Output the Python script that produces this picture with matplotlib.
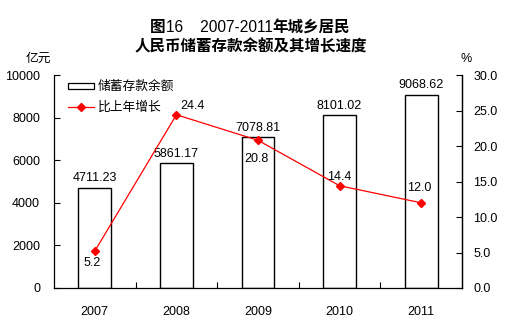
import matplotlib
matplotlib.use("Agg")
import matplotlib.pyplot as plt
from matplotlib.offsetbox import TextArea, HPacker, AnchoredOffsetbox
from matplotlib.patches import Rectangle
from matplotlib.lines import Line2D

plt.rcParams['font.family'] = ['Liberation Sans', 'Noto Sans CJK SC', 'DejaVu Sans']

years = ['2007', '2008', '2009', '2010', '2011']
deposits = [4711.23, 5861.17, 7078.81, 8101.02, 9068.62]
growth = [5.2, 24.4, 20.8, 14.4, 12.0]
growth_labels = ['5.2', '24.4', '20.8', '14.4', '12.0']
left_ticks = [0, 2000, 4000, 6000, 8000, 10000]
right_ticks = [0, 5, 10, 15, 20, 25, 30]

DPI = 100
FS = 9.0
CJK_FS = 9.2
fig = plt.figure(figsize=(5.05, 3.25), dpi=DPI)
ax = fig.add_axes([54/505, 1-288/325, (462-54)/505, (288-75)/325])
ax2 = ax.twinx()

x = list(range(len(years)))
ax.bar(x, deposits, width=0.4, facecolor='white', edgecolor='black', linewidth=1, zorder=2)
for xi, v in zip(x, deposits):
    ax.annotate(f'{v:.2f}', (xi, v), xytext=(0, 2.5), textcoords='offset points',
                ha='center', va='bottom', fontsize=FS)

ax.set_xlim(-0.5, 4.5)
ax.set_ylim(0, 10000)
ax.set_yticks(left_ticks)
ax.set_yticklabels([str(t) for t in left_ticks])
ax.set_xticks(x)
ax.set_xticklabels(years)
ax.set_xticks([0.5, 1.5, 2.5, 3.5], minor=True)
ax.tick_params(axis='x', which='major', length=0, pad=13, labelsize=FS)
ax.tick_params(axis='x', which='minor', length=4, direction='in', width=0.8)
ax.tick_params(axis='y', length=4, direction='in', width=0.8, pad=10, labelsize=FS)
ax.spines['top'].set_visible(False)
for s in ['left', 'bottom', 'right']:
    ax.spines[s].set_linewidth(0.9)

ax2.plot(x, growth, color='#FF0000', linewidth=0.9, marker='D', markersize=4.2,
         markerfacecolor='#FF0000', markeredgecolor='#FF0000', zorder=3)
ax2.set_ylim(0, 30)
ax2.set_yticks(right_ticks)
ax2.set_yticklabels([f'{t:.1f}' for t in right_ticks])
ax2.tick_params(axis='y', length=4, direction='in', width=0.8, pad=8, labelsize=FS)
ax2.spines['top'].set_visible(False)
ax2.spines['right'].set_linewidth(0.9)
ax2.spines['left'].set_visible(False)
ax2.spines['bottom'].set_visible(False)

offsets_px = [(-3, -12), (16, 9), (-2, -19), (0, 9), (-2, 15)]
for xi, v, lab, (dx, dy) in zip(x, growth, growth_labels, offsets_px):
    ax2.annotate(lab, (xi, v), xytext=(dx*0.72, dy*0.72), textcoords='offset points',
                 ha='center', va='center', fontsize=FS)

cjk = ['Noto Sans CJK SC', 'DejaVu Sans']

# legend
fig.patches.append(Rectangle((68/505, 1-89/325), 26/505, 6/325, transform=fig.transFigure,
                             facecolor='white', edgecolor='black', linewidth=0.9))
fig.text(98/505, 1-86/325, '储蓄存款余额', ha='left', va='center', fontsize=CJK_FS, family=cjk)
fig.lines.append(Line2D([68/505, 94/505], [1-107/325, 1-107/325], transform=fig.transFigure,
                        color='#FF0000', linewidth=0.9, zorder=3))
fig.lines.append(Line2D([81/505], [1-107/325], transform=fig.transFigure,
                        color='#FF0000', marker='D', markersize=4.2, linestyle='none'))
fig.text(98/505, 1-107/325, '比上年增长', ha='left', va='center', fontsize=CJK_FS, family=cjk)

# axis unit labels
fig.text(38/505, 1-58/325, '亿元', ha='center', va='center', fontsize=CJK_FS, family=cjk)
fig.text(466/505, 1-59/325, '%', ha='center', va='center', fontsize=FS)

# title
TFS = 11.2
def ta(s, bold, fam):
    return TextArea(s, textprops=dict(fontsize=TFS, fontweight='bold' if bold else 'normal',
                                      family=fam))
line1 = HPacker(children=[ta('图', True, cjk), ta('16    2007-2011', False, ['Liberation Sans']),
                          ta('年城乡居民', True, cjk)], align='baseline', pad=0, sep=0)
ab = AnchoredOffsetbox(loc='center', child=line1, frameon=False, pad=0, borderpad=0,
                       bbox_to_anchor=(250/505, 1-27/325), bbox_transform=fig.transFigure)
fig.add_artist(ab)
fig.text(251/505, 1-46/325, '人民币储蓄存款余额及其增长速度', ha='center', va='center',
         fontsize=TFS, fontweight='bold', family=cjk)

fig.savefig('out.png', dpi=DPI)
